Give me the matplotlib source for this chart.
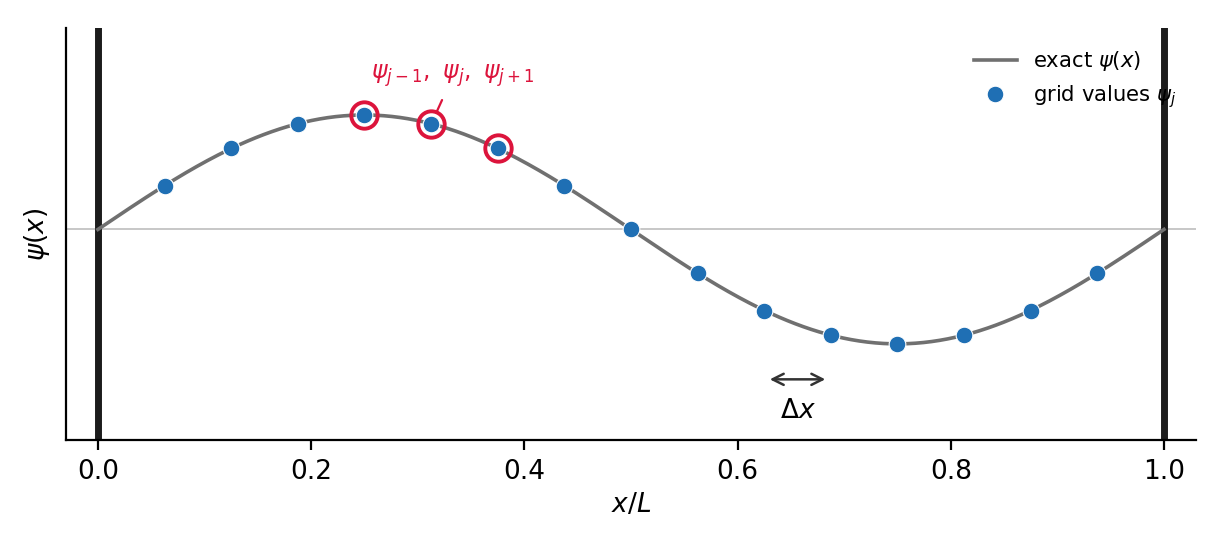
import numpy as np
import matplotlib
matplotlib.use("Agg")
import matplotlib.pyplot as plt

# grid points x_j = j/16 and values
x_grid = [0.0625, 0.125, 0.1875, 0.25, 0.3125, 0.375, 0.4375, 0.5,
          0.5625, 0.625, 0.6875, 0.75, 0.8125, 0.875, 0.9375]
psi_grid = [0.38, 0.71, 0.92, 1.0, 0.92, 0.71, 0.38, 0.0,
            -0.38, -0.71, -0.92, -1.0, -0.92, -0.71, -0.38]
highlight_idx = [3, 4, 5]
x_ticks = [0.0, 0.2, 0.4, 0.6, 0.8, 1.0]

x_fine = np.linspace(0, 1, 400)
psi_exact = np.sin(2 * np.pi * x_fine)

fig = plt.figure(figsize=(6.12, 2.72), dpi=200)
ax = fig.add_axes([0.0539, 0.1912, 0.9232, 0.7573])

ax.axhline(0, color="0.78", lw=0.7, zorder=0)
ax.axvline(0, color="#1c1c1c", lw=2.5, zorder=1)
ax.axvline(1, color="#1c1c1c", lw=2.5, zorder=1)

ax.plot(x_fine, psi_exact, color="#707070", lw=1.3, label=r"exact $\psi(x)$", zorder=2)
ax.plot(x_grid, psi_grid, "o", color="#1f6fb4", ms=6, mec="white", mew=0.4,
        label=r"grid values $\psi_j$", zorder=3)

hx = [x_grid[i] for i in highlight_idx]
hy = [psi_grid[i] for i in highlight_idx]
ax.plot(hx, hy, "o", ms=9.5, mfc="none", mec="#dc143c", mew=1.4, zorder=4)

ax.annotate(r"$\psi_{j-1},\ \psi_j,\ \psi_{j+1}$", xy=(x_grid[4], psi_grid[4]),
            xytext=(0.333, 1.34), ha="center", va="center", color="#dc143c",
            fontsize=8.5, arrowprops=dict(arrowstyle="-", color="#dc143c", lw=0.8,
                                           shrinkA=2, shrinkB=4.5))

ax.annotate("", xy=(0.625, -1.31), xytext=(0.6875, -1.31),
            arrowprops=dict(arrowstyle="<->", color="#333333", lw=0.9,
                            shrinkA=2, shrinkB=2))
ax.text(0.65625, -1.59, r"$\Delta x$", ha="center", va="center", fontsize=9.5)

ax.set_xlim(-0.03, 1.03)
ax.set_ylim(-1.84, 1.76)
ax.set_xticks(x_ticks)
ax.set_yticks([])
ax.tick_params(labelsize=9.5)
ax.set_xlabel(r"$x/L$", fontsize=9.5, labelpad=2.5)
ax.set_ylabel(r"$\psi(x)$", fontsize=9.5, labelpad=5)
ax.spines["top"].set_visible(False)
ax.spines["right"].set_visible(False)

ax.legend(loc="upper right", frameon=False, fontsize=7.6, bbox_to_anchor=(1.0, 0.995))

fig.savefig("out.png", dpi=200)
